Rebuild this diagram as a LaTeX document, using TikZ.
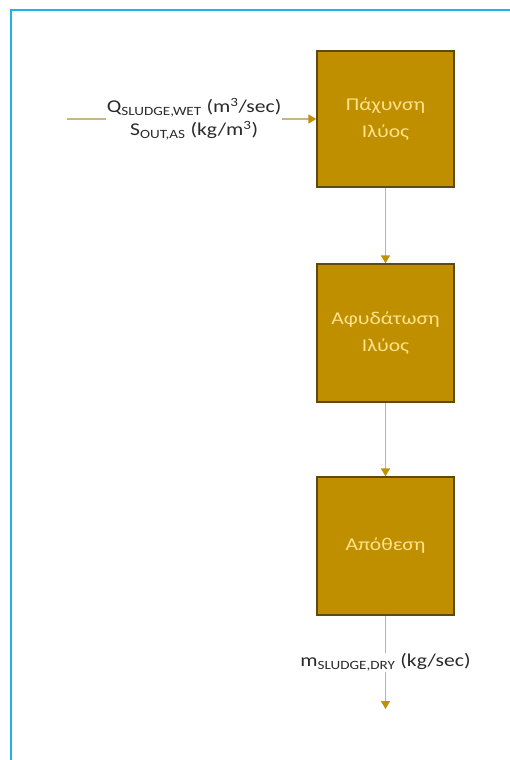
\documentclass[tikz,border=0pt]{standalone}
\usepackage{fontspec}
\setmainfont[FakeStretch=1.2]{Carlito}
\usetikzlibrary{arrows.meta}
\definecolor{frameblue}{HTML}{22B2EA}
\definecolor{boxfill}{HTML}{BF8F00}
\definecolor{boxline}{HTML}{5E4A10}
\definecolor{boxtext}{HTML}{FFE28A}
\definecolor{flowline}{HTML}{C9B67E}
\definecolor{flowtip}{HTML}{BF9000}
\definecolor{labtext}{HTML}{2A2A2A}
\tikzset{
  procbox/.style={draw=boxline, line width=1.4pt, fill=boxfill, minimum width=137pt, minimum height=136pt,
    inner sep=0pt, text=boxtext, align=center, font=\fontsize{18}{27}\selectfont},
  flow/.style={draw=flowline, line width=1.6pt, -{Triangle[width=9pt,length=8pt,color=flowtip]}},
  flowlab/.style={fill=white, inner sep=1pt, text=labtext, align=center, font=\fontsize{18}{23}\selectfont}
}
\begin{document}
\begin{tikzpicture}[x=1pt,y=-1pt]
\useasboundingbox (0,0) rectangle (510,760);
\clip (0,0) rectangle (510,760);
\fill[white] (0,0) rectangle (510,760);
\draw[frameblue, line width=2.5pt] (11,780) -- (11,10) -- (530,10);
\node[procbox] (b1) at (385.5,119) {Πάχυνση\\Ιλύος};
\node[procbox, minimum height=138pt] (b2) at (385.5,333) {Αφυδάτωση\\Ιλύος};
\node[procbox, minimum height=138pt] (b3) at (385.5,546) {Απόθεση};
\coordinate (in) at (67,119);
\coordinate (out) at (385.5,709);
\draw[flow] (in) -- node[flowlab, pos=0.51] (inlab) {Q\textsubscript{SLUDGE,WET} (m\textsuperscript{3}/sec)\\S\textsubscript{OUT,AS} (kg/m\textsuperscript{3})} (b1.west);
\draw[flow] (b1.south) -- (b2.north);
\draw[flow] (b2.south) -- (b3.north);
\draw[flow] (b3.south) -- node[flowlab, pos=0.5] (outlab) {m\textsubscript{SLUDGE,DRY} (kg/sec)} (out);
\end{tikzpicture}
\end{document}
